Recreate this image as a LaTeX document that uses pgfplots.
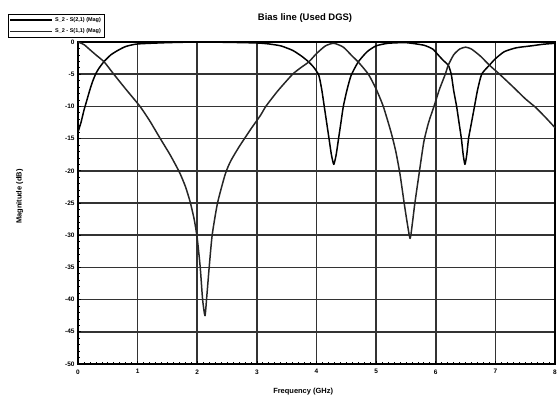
\documentclass[border=0pt]{standalone}
\usepackage{fontspec}
\setmainfont{Liberation Sans}
\usepackage{pgfplots}
\pgfplotsset{compat=1.18}

% S(2,1) magnitude, dB
\def\sTwoOne{
(0,-14) (0.05,-12.5) (0.1,-10.6) (0.15,-9) (0.2,-7.4) (0.25,-6) (0.3,-4.9) (0.35,-4.1)
(0.44,-3.0) (0.55,-2.0) (0.67,-1.3) (0.8,-0.7) (1.0,-0.3) (1.5,-0.1) (2.0,0) (2.5,-0.05)
(3.0,-0.15) (3.2,-0.3) (3.4,-0.6) (3.6,-1.3) (3.75,-2.2) (3.87,-3.1) (3.96,-4.0) (4.04,-5.2)
(4.09,-7.5) (4.13,-10) (4.17,-12.5) (4.21,-15) (4.25,-17.5) (4.29,-19) (4.33,-17.5)
(4.37,-15) (4.41,-12.5) (4.45,-10) (4.51,-7.5) (4.58,-5.2) (4.7,-3.1) (4.85,-1.5)
(5.0,-0.6) (5.2,-0.2) (5.5,-0.1) (5.8,-0.5) (5.95,-1.1) (6.04,-2.0) (6.13,-2.9) (6.21,-3.6)
(6.26,-5) (6.3,-7.5) (6.35,-10) (6.39,-12.5) (6.43,-15) (6.46,-17.5) (6.49,-19)
(6.52,-17.5) (6.55,-15) (6.6,-12.5) (6.65,-10) (6.7,-7.5) (6.77,-5) (6.9,-3.6)
(7.0,-2.6) (7.15,-1.5) (7.35,-0.9) (7.6,-0.6) (7.8,-0.35) (8,-0.2)
}

% S(1,1) magnitude, dB
\def\sOneOne{
(0,0) (0.1,-0.4) (0.2,-1.2) (0.3,-2.0) (0.44,-3.1) (0.6,-5) (0.8,-7.3) (1.04,-10)
(1.2,-12.2) (1.38,-15) (1.55,-17.6) (1.7,-20.2) (1.8,-22.4) (1.88,-24.8) (1.95,-27.6)
(2.0,-30.5) (2.05,-35) (2.09,-40) (2.13,-42.5) (2.16,-39.5) (2.2,-35) (2.25,-30)
(2.34,-25) (2.47,-20.5) (2.56,-18.5) (2.7,-16.3) (2.9,-13.5) (3.06,-11.4) (3.15,-10)
(3.35,-7.6) (3.6,-5) (3.75,-3.9) (3.87,-3.1) (4.0,-1.8) (4.15,-0.6) (4.29,-0.2)
(4.45,-0.8) (4.6,-2.2) (4.7,-3.1) (4.87,-5) (5.0,-7.3) (5.12,-10) (5.25,-14)
(5.33,-17) (5.4,-20.5) (5.47,-25) (5.52,-28) (5.57,-30.5) (5.61,-28) (5.65,-25)
(5.72,-20.5) (5.8,-15.5) (5.88,-12.5) (5.97,-10) (6.06,-7.4) (6.16,-5) (6.21,-3.6)
(6.3,-2.0) (6.4,-1.1) (6.5,-0.8) (6.6,-1.1) (6.75,-2.2) (6.9,-3.6) (7.07,-5)
(7.3,-7) (7.5,-8.8) (7.68,-10.2) (7.85,-11.8) (8,-13.3)
}

\begin{document}
\begin{tikzpicture}
\useasboundingbox (0,0) rectangle (558bp,406bp);
\begin{axis}[
  at={(78bp,42bp)}, anchor=south west,
  scale only axis, width=477bp, height=322bp,
  xmin=0, xmax=8, ymin=-50, ymax=0,
  xtick={0,...,8}, ytick={-50,-45,...,0},
  minor x tick num=9, minor y tick num=4,
  tick pos=left, tick align=inside,
  major tick length=3bp, minor tick length=2bp,
  tick style={black, line width=0.7pt},
  grid=major,
  major grid style={black!80, line width=1.6pt},
  axis line style={black, line width=1.8pt},
  /pgf/number format/assume math mode=true,
  ticklabel style={font=\fontsize{6.5}{7}\selectfont\bfseries},
  xticklabel style={yshift=-2bp},
  title={\fontsize{9.5}{11}\selectfont\bfseries Bias line (Used DGS)},
  title style={at={(axis description cs:0.476,1.075)}, anchor=center, yshift=-6pt},
  xlabel={\fontsize{7.5}{9}\selectfont\bfseries Frequency (GHz)},
  xlabel style={at={(axis description cs:0.472,-0.087)}, anchor=center},
  ylabel={\fontsize{7.5}{9}\selectfont\bfseries Magnitude (dB)},
  ylabel style={at={(axis description cs:-0.122,0.52)}, anchor=center},
  legend style={
    at={(axis description cs:-0.147,1.012)}, anchor=south west,
    draw=black, line width=0.7pt, fill=white,
    font=\fontsize{5.5}{6}\selectfont\bfseries,
    row sep=2bp, inner sep=1.5bp,
    legend cell align=left,
  },
  legend image code/.code={\draw[#1] (0bp,0bp) -- (42bp,0bp);},
]
\addplot[black, line width=1.5pt, line join=round, smooth, tension=0.35] coordinates {\sTwoOne};
\addlegendentry{S\_2 - S(2,1) (Mag)}
\addplot[black!85, line width=1.5pt, line join=round, smooth, tension=0.35] coordinates {\sOneOne};
\addlegendentry{S\_2 - S(1,1) (Mag)}
\end{axis}
\end{tikzpicture}
\end{document}
